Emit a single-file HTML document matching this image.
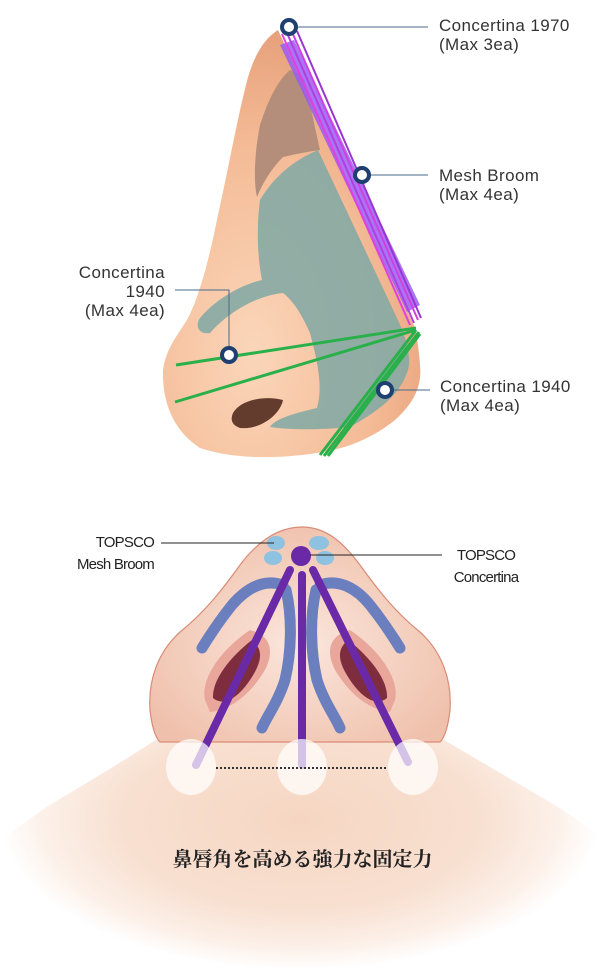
<!DOCTYPE html>
<html><head><meta charset="utf-8"><style>
html,body{margin:0;padding:0;background:#fff;}
body{width:605px;height:976px;overflow:hidden;position:relative;font-family:"Liberation Sans","Noto Sans CJK JP",sans-serif;}
.l{position:absolute;font-size:17px;color:#333;line-height:19px;letter-spacing:0.4px}
.s{position:absolute;font-size:15px;color:#222;line-height:22px;letter-spacing:-0.8px}
</style></head><body>
<svg width="605" height="976" style="position:absolute;left:0;top:0">
<defs>
<radialGradient id="sk" cx="0.35" cy="0.75" r="0.8"><stop offset="0" stop-color="#fbd6ba"/><stop offset="0.6" stop-color="#f4bb96"/><stop offset="1" stop-color="#e49c76"/></radialGradient>
<radialGradient id="gr" cx="300" cy="820" r="300" gradientUnits="userSpaceOnUse" gradientTransform="translate(0,820) scale(1,0.5) translate(0,-820)"><stop offset="0" stop-color="#f6d6c2"/><stop offset="0.6" stop-color="#f8e0d1"/><stop offset="0.85" stop-color="#fcf0e8"/><stop offset="1" stop-color="#fff"/></radialGradient>
<radialGradient id="nb" cx="0.5" cy="0.55" r="0.6"><stop offset="0" stop-color="#fbe6dc"/><stop offset="1" stop-color="#efc0ab"/></radialGradient>
</defs>
<!-- top nose -->
<path d="M278,30 C262,40 252,60 246,85 C236,125 228,170 218,215 C210,255 200,295 188,318 C178,335 166,348 163,370 C162,400 172,430 200,448 C230,458 270,460 317,453 C345,449 370,440 395,420 C415,402 422,385 420,365 C419,350 417,340 416,330 Z" fill="url(#sk)"/>
<path d="M257,197 C253,180 255,150 260,125 C268,100 278,80 290,70 C298,72 303,76 305,82 L320,150 C305,152 292,155 283,157 C270,170 262,185 257,197 Z" fill="#b58e7b"/>
<path d="M260,200 C275,175 295,160 318,150 L397,318 C405,335 412,355 408,370 C400,395 380,410 350,427 C320,430 290,430 270,427 C275,418 300,412 317,408 C322,390 320,370 310,333 C300,310 290,298 283,293 C260,295 230,310 210,333 C198,335 195,325 200,318 C215,300 240,285 262,280 C258,260 256,230 260,200 Z" fill="#85aaa4" opacity="0.9"/>
<path d="M233,413 C240,400 265,395 283,400 C280,415 260,430 240,428 C232,425 230,420 233,413 Z" fill="#4a2216" opacity="0.85"/>
<polygon points="280,45 294,40 420,305 407,312" fill="#9b5cf2" opacity="0.85"/>
<line x1="282" y1="34" x2="410" y2="325" stroke="#e040e0" stroke-width="2"/>
<line x1="287" y1="33" x2="414" y2="323" stroke="#b040e0" stroke-width="2"/>
<line x1="292" y1="32" x2="418" y2="320" stroke="#d040e0" stroke-width="2"/>
<line x1="297" y1="31" x2="421" y2="318" stroke="#9a36d0" stroke-width="2"/>
<g stroke="#2ab04a" stroke-width="3" fill="none">
<line x1="176" y1="365" x2="416" y2="328"/>
<line x1="175" y1="402" x2="416" y2="330"/>
<line x1="320" y1="455" x2="416" y2="330"/>
<line x1="324" y1="456" x2="419" y2="332"/>
<line x1="328" y1="456" x2="420" y2="334"/>
</g>
<g stroke="#4a6a8a" stroke-width="1" fill="none">
<line x1="289" y1="27" x2="428" y2="27"/>
<line x1="362" y1="175" x2="428" y2="175"/>
<polyline points="175,290 229,290 229,355"/>
<line x1="385" y1="390" x2="430" y2="390"/>
</g>
<g fill="#fff" stroke="#1e3f70" stroke-width="4">
<circle cx="289" cy="27" r="7"/><circle cx="362" cy="175" r="7"/><circle cx="229" cy="355" r="7"/><circle cx="385" cy="390" r="7"/>
</g>
<!-- bottom ground -->
<path d="M156,740 L444,740 L490,767 L560,808 L605,840 L605,976 L0,976 L0,840 L45,808 L113,767 Z" fill="url(#gr)"/>
<path d="M302,527 C275,527 255,545 240,565 C222,590 205,612 180,632 C158,652 148,680 150,710 C152,728 156,738 160,742 L440,742 C444,738 448,728 450,710 C452,680 442,652 420,632 C395,612 378,590 360,565 C345,545 328,527 302,527 Z" fill="url(#nb)" stroke="#d98c78" stroke-width="1.2"/>
<path d="M205,700 C200,680 220,650 250,630 C270,635 275,650 265,670 C250,695 230,710 210,712 Z" fill="#e9a79c"/>
<path d="M213,698 C212,680 230,657 252,640 C264,650 262,662 250,680 C240,695 225,708 213,698 Z" fill="#7e2d3e"/>
<path d="M395,700 C400,680 380,650 350,630 C330,635 325,650 335,670 C350,695 370,710 390,712 Z" fill="#e9a79c"/>
<path d="M387,698 C388,680 370,657 348,640 C336,650 338,662 350,680 C360,695 375,708 387,698 Z" fill="#7e2d3e"/>
<g fill="none" stroke="#6b7fbf" stroke-width="11" stroke-linecap="round">
<path d="M283,585 C262,578 245,590 232,605 C220,620 210,635 202,648"/>
<path d="M320,585 C340,578 358,590 370,605 C382,620 392,635 400,648"/>
<path d="M286,590 C292,615 292,650 285,680 C278,702 266,718 262,728"/>
<path d="M316,590 C310,615 310,650 317,680 C324,702 336,718 340,728"/>
</g>
<g stroke="#6a2aa8" stroke-width="8" stroke-linecap="round">
<line x1="290" y1="570" x2="196" y2="765"/>
<line x1="302" y1="575" x2="302" y2="765"/>
<line x1="313" y1="570" x2="408" y2="762"/>
</g>
<g fill="#fff" opacity="0.72"><ellipse cx="191" cy="767" rx="25" ry="28"/><ellipse cx="302" cy="767" rx="25" ry="28"/><ellipse cx="413" cy="767" rx="25" ry="28"/></g>
<line x1="216" y1="768" x2="386" y2="768" stroke="#333" stroke-width="2" stroke-dasharray="2,2"/>
<g fill="#8ec2e0"><ellipse cx="276" cy="543" rx="9" ry="7"/><ellipse cx="319" cy="543" rx="10" ry="7"/><ellipse cx="273" cy="558" rx="9" ry="7"/><ellipse cx="325" cy="558" rx="9" ry="7"/></g>
<circle cx="301" cy="556" r="10" fill="#6a2aa8"/>
<line x1="161" y1="543" x2="274" y2="543" stroke="#222"/>
<line x1="310" y1="555" x2="442" y2="555" stroke="#222"/>
</svg>
<div class="l" style="left:439px;top:16px">Concertina 1970<br>(Max 3ea)</div>
<div class="l" style="left:439px;top:166px">Mesh Broom<br>(Max 4ea)</div>
<div class="l" style="left:50px;top:263px;text-align:right;width:115px">Concertina<br>1940<br>(Max 4ea)</div>
<div class="l" style="left:440px;top:377px">Concertina 1940<br>(Max 4ea)</div>
<div class="s" style="left:40px;top:532px;width:114px;text-align:right">TOPSCO<br>Mesh Broom</div>
<div class="s" style="left:444px;top:545px;text-align:center;width:84px">TOPSCO<br>Concertina</div>
<div style="position:absolute;left:0;width:605px;top:843px;text-align:center;font-family:'Liberation Serif','Noto Serif CJK JP',serif;font-size:20px;font-weight:bold;color:#222">鼻唇角を高める強力な固定力</div>
</body></html>
